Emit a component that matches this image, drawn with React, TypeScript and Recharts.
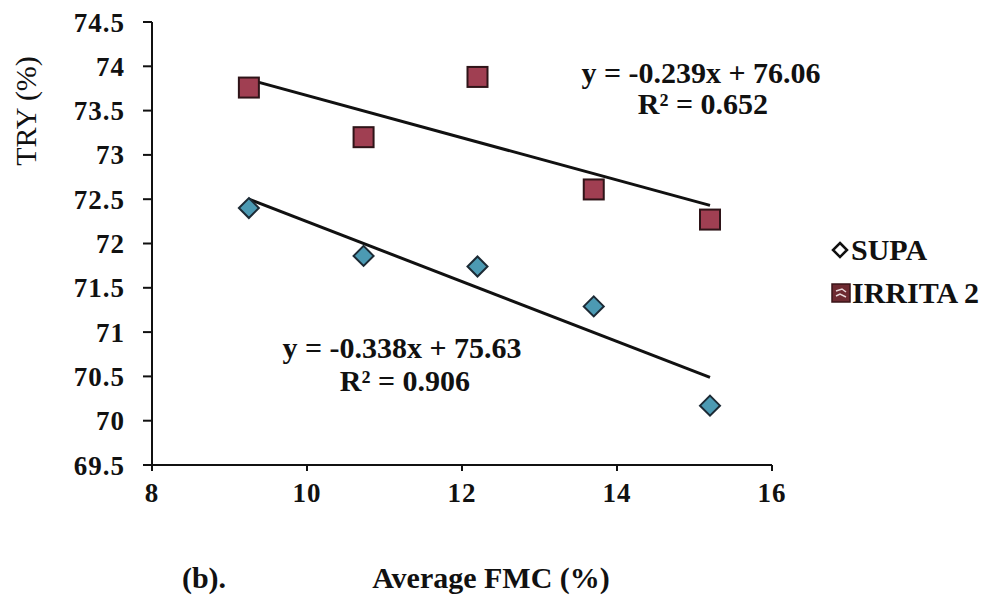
import { ScatterChart, Scatter, XAxis, YAxis } from "recharts"

const fmc = [9.25, 10.73, 12.2, 13.7, 15.2]
const supaTry = [72.4, 71.86, 71.74, 71.29, 70.17]
const irritaTry = [73.76, 73.2, 73.88, 72.61, 72.27]

// trend line end points
const supaTrendX = [9.25, 15.2]
const supaTrendY = [72.5, 70.49]
const irritaTrendX = [9.25, 15.2]
const irritaTrendY = [73.85, 72.43]

const xTicks = [8, 10, 12, 14, 16]
const yTicks = [69.5, 70, 70.5, 71, 71.5, 72, 72.5, 73, 73.5, 74, 74.5]

const supaData = fmc.map((x, i) => ({ x, y: supaTry[i] }))
const irritaData = fmc.map((x, i) => ({ x, y: irritaTry[i] }))
const supaTrend = supaTrendX.map((x, i) => ({ x, y: supaTrendY[i] }))
const irritaTrend = irritaTrendX.map((x, i) => ({ x, y: irritaTrendY[i] }))

const font = "'Liberation Serif', 'Times New Roman', serif"

const Square = (props: any) => {
  const { cx, cy } = props
  return <rect x={cx - 10} y={cy - 10} width={20} height={20} fill="#a03f52" stroke="#2e1418" strokeWidth={2} />
}

const Diamond = (props: any) => {
  const { cx, cy } = props
  return (
    <path
      d={`M${cx},${cy - 10} L${cx + 10},${cy} L${cx},${cy + 10} L${cx - 10},${cy} Z`}
      fill="#4c9ab3"
      stroke="#1c2a35"
      strokeWidth={2}
    />
  )
}

const NoDot = () => <g />

const tickStyle = { fontFamily: font, fontSize: 27, fontWeight: 700, fill: "#111", letterSpacing: 1 }

const textStyle = (left: number, top: number, size = 30, weight = 700): React.CSSProperties => ({
  position: "absolute",
  left,
  top,
  fontFamily: font,
  fontSize: size,
  fontWeight: weight,
  color: "#111",
  whiteSpace: "nowrap",
  lineHeight: 1,
})

function App() {
  return (
    <div style={{ position: "relative", width: 982, height: 595 }}>
      <ScatterChart width={982} height={595} margin={{ top: 14, right: 218, bottom: 98, left: 0 }}>
        <XAxis
          type="number"
          dataKey="x"
          domain={[8, 16]}
          ticks={xTicks}
          tick={tickStyle}
          tickSize={6}
          tickMargin={12}
          height={40}
          axisLine={{ stroke: "#111", strokeWidth: 2 }}
          tickLine={{ stroke: "#111", strokeWidth: 2 }}
        />
        <YAxis
          type="number"
          dataKey="y"
          domain={[69.5, 74.5]}
          ticks={yTicks}
          interval={0}
          tick={tickStyle}
          tickSize={9}
          tickMargin={18}
          width={144}
          axisLine={{ stroke: "#111", strokeWidth: 2 }}
          tickLine={{ stroke: "#111", strokeWidth: 2 }}
        />
        <Scatter data={irritaTrend} line={{ stroke: "#111", strokeWidth: 3 }} shape={NoDot} isAnimationActive={false} />
        <Scatter data={supaTrend} line={{ stroke: "#111", strokeWidth: 3 }} shape={NoDot} isAnimationActive={false} />
        <Scatter name="SUPA" data={supaData} shape={Diamond} isAnimationActive={false} />
        <Scatter name="IRRITA 2" data={irritaData} shape={Square} isAnimationActive={false} />
      </ScatterChart>

      <div
        style={{
          ...textStyle(26 - 8, 111 - 8, 30, 400),
          transform: "translate(-50%, -50%) rotate(-90deg)",
          transformOrigin: "center",
        }}
      >
        TRY (%)
      </div>

      <div style={{ ...textStyle(701 - 8, 73 - 8), transform: "translate(-50%, -50%)" }}>y = -0.239x + 76.06</div>
      <div style={{ ...textStyle(703 - 8, 104 - 8), transform: "translate(-50%, -50%)" }}>R² = 0.652</div>
      <div style={{ ...textStyle(402 - 8, 348 - 8), transform: "translate(-50%, -50%)" }}>y = -0.338x + 75.63</div>
      <div style={{ ...textStyle(405 - 8, 381 - 8), transform: "translate(-50%, -50%)" }}>R² = 0.906</div>

      <div style={{ ...textStyle(831 - 8, 250 - 8), transform: "translateY(-50%)", display: "flex", alignItems: "center" }}>
        <svg width={18} height={18} style={{ marginRight: 2 }}>
          <path d="M9,2 L16,9 L9,16 L2,9 Z" fill="#fff" stroke="#111" strokeWidth={2.5} />
        </svg>
        SUPA
      </div>
      <div style={{ ...textStyle(831 - 8, 293 - 8), transform: "translateY(-50%)", display: "flex", alignItems: "center" }}>
        <svg width={20} height={20} style={{ marginRight: 1 }}>
          <rect x={1} y={1} width={18} height={18} fill="#6e2a31" stroke="#3a1418" strokeWidth={1.5} />
          <path d="M5,8 L11,6 L15,9 M5,13 L9,11 L15,14" stroke="#e8d6d8" strokeWidth={1.5} fill="none" />
        </svg>
        IRRITA 2
      </div>

      <div style={{ ...textStyle(204 - 8, 578 - 8), transform: "translate(-50%, -50%)" }}>(b).</div>
      <div style={{ ...textStyle(491 - 8, 578 - 8), transform: "translate(-50%, -50%)" }}>Average FMC (%)</div>
    </div>
  )
}

export default App
